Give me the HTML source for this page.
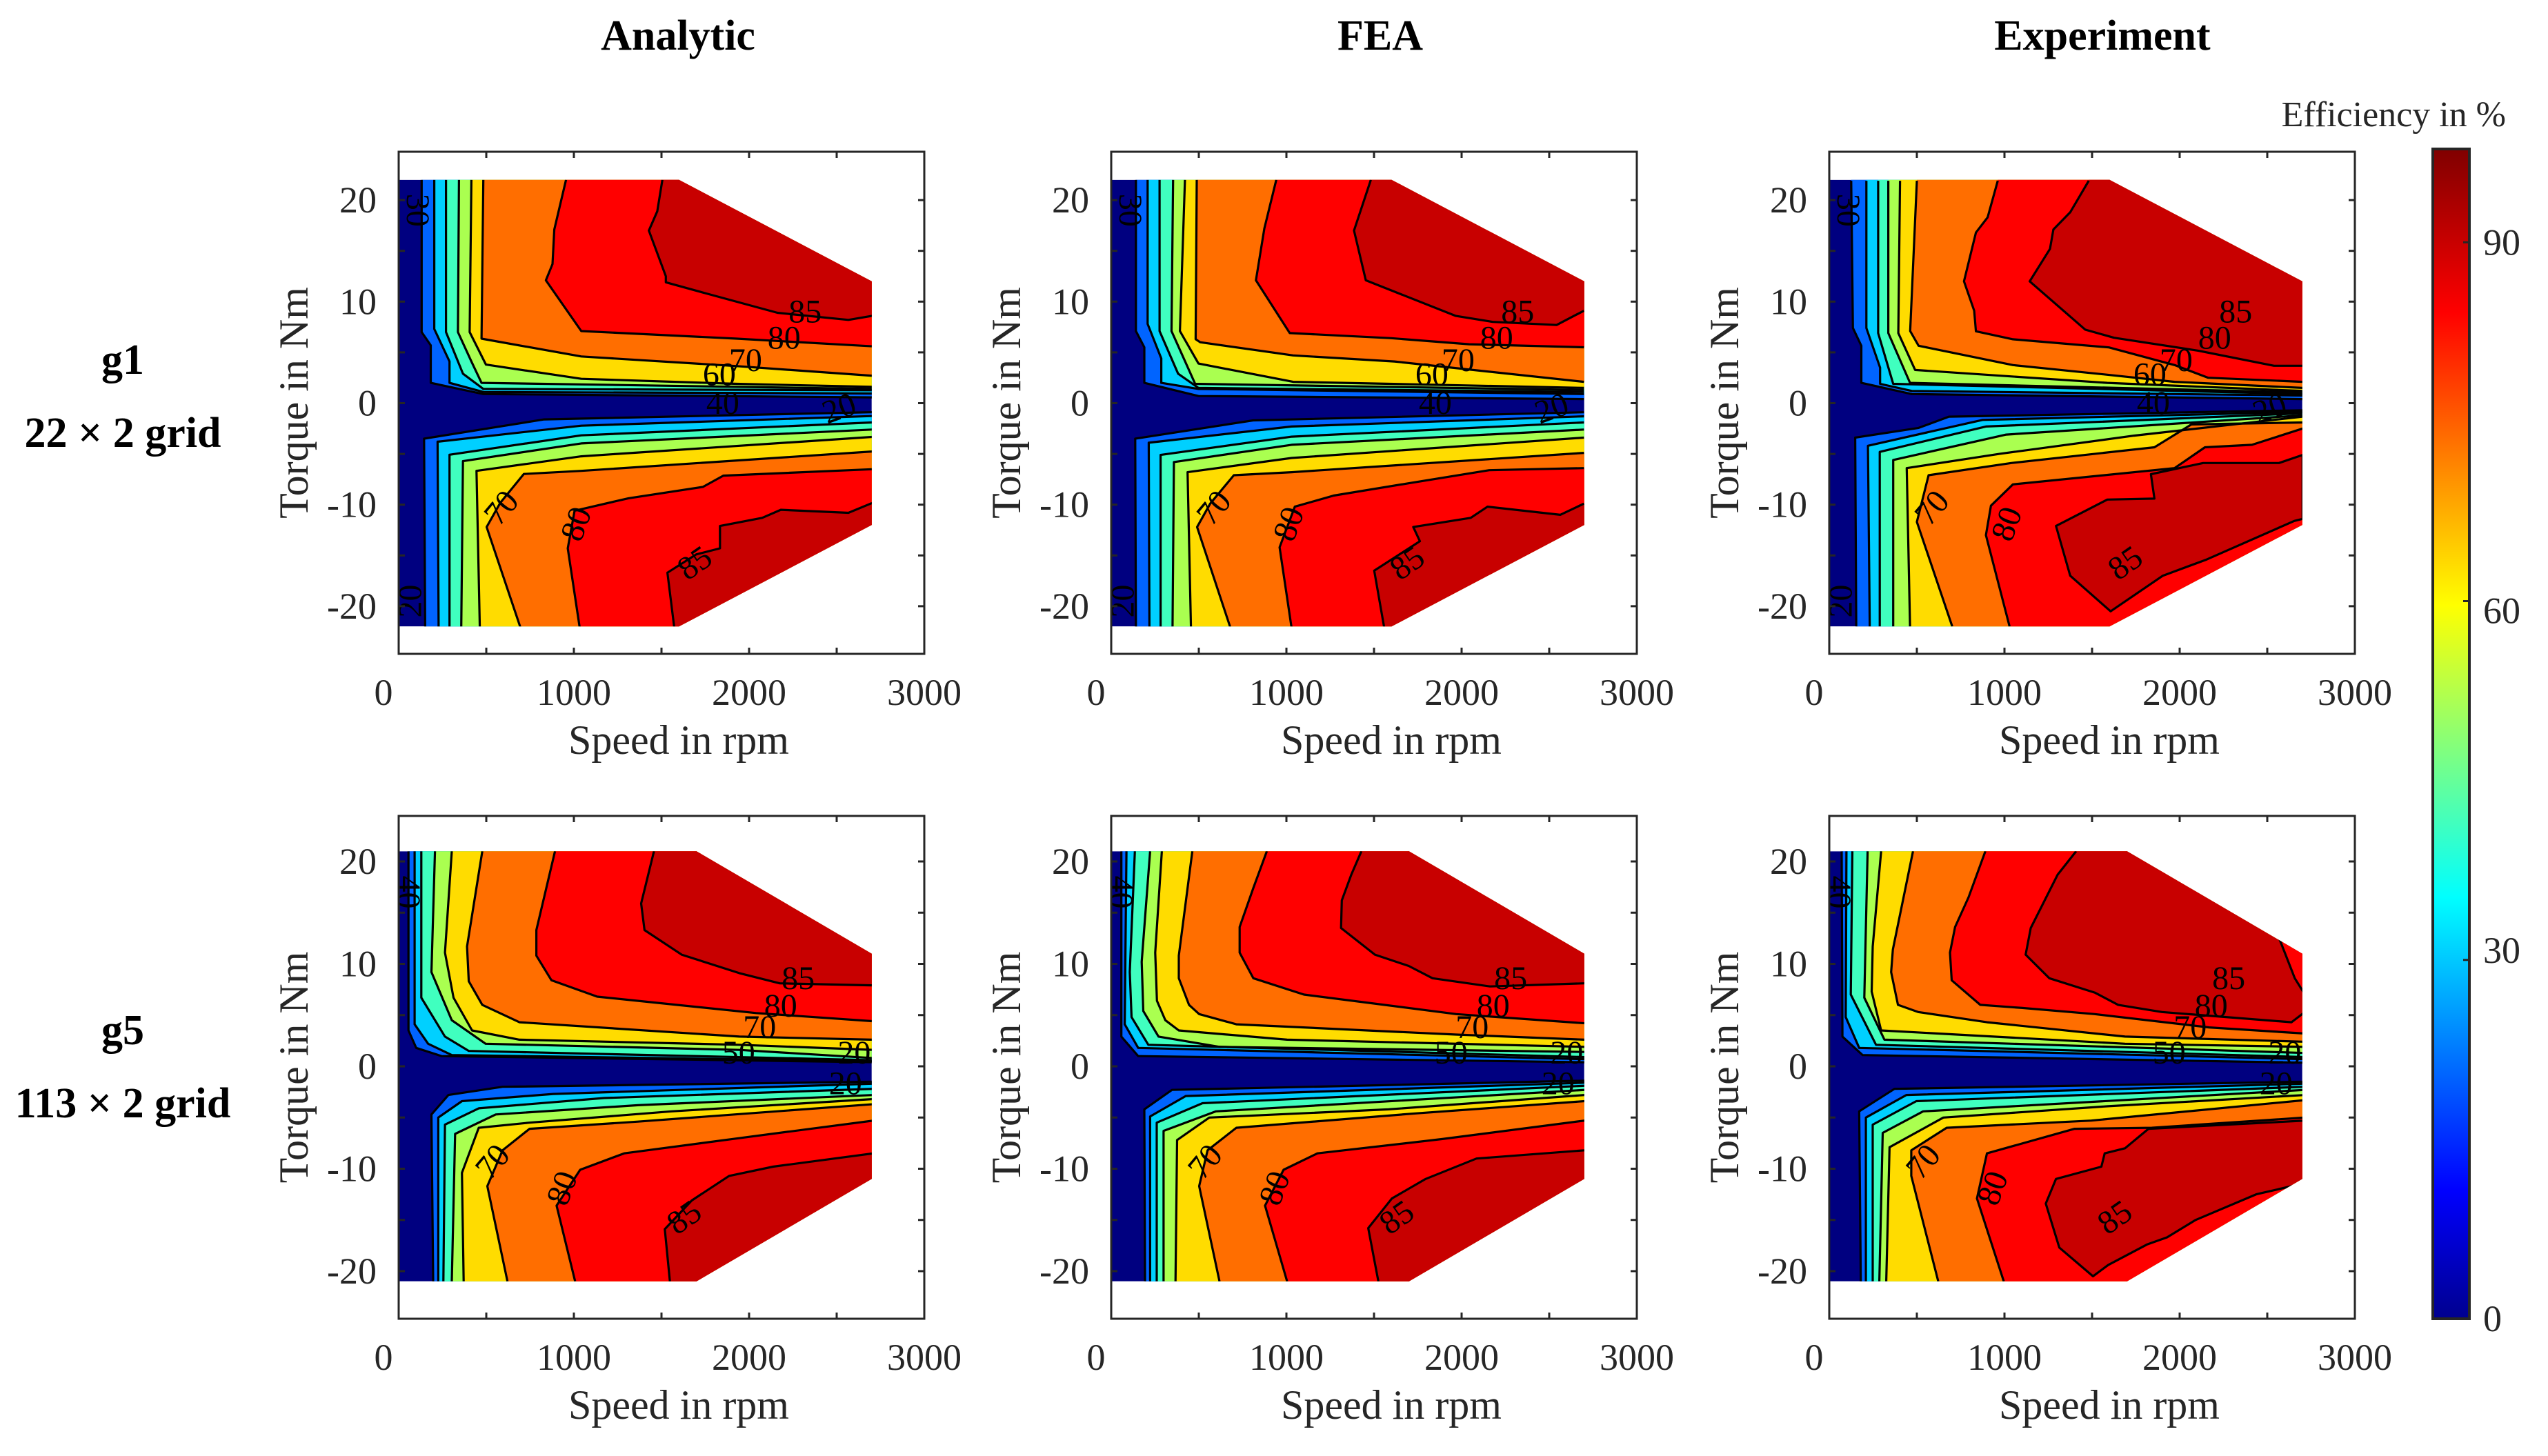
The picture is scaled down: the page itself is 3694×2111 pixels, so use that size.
<!DOCTYPE html>
<html><head><meta charset="utf-8">
<style>
html,body{margin:0;padding:0;background:#fff;}
svg{display:block;}
text{font-family:"Liberation Serif","DejaVu Serif",serif;fill:#262626;}
</style></head>
<body>
<svg id="fig" width="3694" height="2111" viewBox="0 0 3694 2111" xmlns="http://www.w3.org/2000/svg">
<defs>
<linearGradient id="jet" x1="0" y1="1" x2="0" y2="0">
<stop offset="0" stop-color="#00008f"/>
<stop offset="0.11" stop-color="#0000ff"/>
<stop offset="0.36" stop-color="#00ffff"/>
<stop offset="0.61" stop-color="#ffff00"/>
<stop offset="0.86" stop-color="#ff0000"/>
<stop offset="1" stop-color="#800000"/>
</linearGradient>
</defs>
<g id="layer"></g>
</svg>
<script>
// ---- chart data ----
const levels = [20, 30, 40, 50, 60, 70, 80, 85];
const levelColors = ["#0064ff", "#00d0ff", "#40ffbf", "#aaff50", "#ffdc00", "#ff6e00", "#ff0000", "#c80000"];
const baseColor = "#000080";
const xTicks = [0, 500, 1000, 1500, 2000, 2500, 3000];
const xTickLabels = ["0", "1000", "2000", "3000"];
const xTickLabelValues = [0, 1000, 2000, 3000];
const yTicks = [-20, -15, -10, -5, 0, 5, 10, 15, 20];
const yTickLabelValues = [-20, -10, 0, 10, 20];
const colTitles = ["Analytic", "FEA", "Experiment"];
const rowNames = ["g1", "g5"];
const rowGrids = ["22 \u00d7 2 grid", "113 \u00d7 2 grid"];
const cbTicks = [0, 30, 60, 90];
const cbTickLabelNudge = [0, -14, 14, 0];
const cbMax = 97.8;
// envelopes: [Tmax, cornerSpeed, Tright, maxSpeed]
const envG1 = [22, 1600, 12, 2700];
const envG5 = [21, 1700, 11, 2700];

// Analytic g1
const anG1Top = [
 [[131,22],[131,7.0],[183,5.7],[183,2.0],[483,0.9],[2702,0.57]],
 [[203,22],[203,7.3],[290,4.1],[290,2.0],[483,1.1],[2702,0.95]],
 [[270,22],[270,7.0],[367,2.9],[483,1.4],[2702,1.27]],
 [[344,22],[338,7.0],[415,4.1],[473,2.0],[2702,1.4]],
 [[415,22],[405,7.0],[498,3.8],[1042,2.4],[1930,1.9],[2702,1.6]],
 [[483,22],[473,6.35],[1042,4.6],[1930,3.65],[2702,2.7]],
 [[955,22],[888,17.1],[878,13.7],[840,12.1],[1042,7.1],[1930,6.35],[2702,5.6]],
 [[1505,22],[1476,18.9],[1428,17.0],[1525,12.5],[1525,11.9],[1756,10.8],[2162,8.9],[2567,8.2],[2702,8.6]]
];
const anG1Bot = [
 [[151,-22.1],[145,-3.5],[830,-1.6],[2702,-0.89]],
 [[228,-22.1],[222,-3.8],[1042,-2.22],[2702,-1.27]],
 [[290,-22.1],[290,-5.08],[1042,-3.17],[2702,-1.9]],
 [[357,-22.1],[367,-5.71],[1042,-3.97],[2702,-2.6]],
 [[463,-22.1],[444,-6.67],[1042,-5.24],[2702,-3.33]],
 [[695,-22.1],[502,-12.2],[579,-9.84],[714,-6.98],[1042,-6.67],[2702,-4.76]],
 [[1033,-22.1],[965,-14.3],[1004,-10.6],[1312,-9.37],[1737,-8.25],[1853,-7.14],[2702,-6.51]],
 [[1573,-22.1],[1534,-16.7],[1698,-14.9],[1834,-14.3],[1834,-12.1],[2075,-11.3],[2181,-10.5],[2567,-10.8],[2702,-9.84]]
];
// FEA g1
const feG1Top = [
 [[141,22],[141,7.1],[189,5.5],[189,2.0],[498,0.7],[2698,0.4]],
 [[208,22],[208,7.8],[286,4.4],[286,2.0],[498,1.4],[2698,0.9]],
 [[276,22],[276,7.1],[382,2.9],[498,1.5],[2698,1.1]],
 [[353,22],[344,7.1],[479,1.9],[2698,1.3]],
 [[421,22],[392,7.1],[498,3.9],[1038,2.1],[2698,1.5]],
 [[488,22],[482,6.3],[508,6.0],[1038,4.7],[1617,4.1],[2698,2.1]],
 [[942,22],[874,17.2],[826,12.1],[1019,6.9],[1598,6.4],[2042,5.8],[2698,5.5]],
 [[1482,22],[1386,17.0],[1453,12.1],[1965,8.6],[2177,8.0],[2542,7.7],[2698,9.1]]
];
const feG1Bot = [
 [[141,-22.1],[137,-3.5],[810,-1.7],[2698,-0.9]],
 [[218,-22.1],[214,-3.9],[1030,-2.3],[2698,-1.3]],
 [[282,-22.1],[282,-5.1],[1030,-3.3],[2698,-1.9]],
 [[350,-22.1],[358,-5.8],[1030,-4.1],[2698,-2.6]],
 [[455,-22.1],[436,-6.8],[1030,-5.4],[2698,-3.4]],
 [[680,-22.1],[490,-12.2],[565,-9.9],[700,-7.1],[1030,-6.8],[2698,-4.9]],
 [[1029,-22.1],[961,-14.2],[1048,-10.2],[1270,-9.1],[1694,-7.9],[2158,-6.6],[2698,-6.4]],
 [[1559,-22.2],[1501,-16.5],[1762,-13.6],[1724,-12.2],[2052,-11.3],[2148,-10.2],[2563,-11.0],[2698,-9.9]]
];
// Experiment g1
const exG1Top = [
 [[125,21.9],[135,7.4],[183,5.65],[183,2.0],[471,0.9],[2702,0.4]],
 [[212,21.9],[212,7.4],[290,3.5],[290,1.9],[471,1.2],[2702,0.75]],
 [[279,21.9],[279,6.9],[365,1.9],[2702,0.9]],
 [[337,21.9],[337,6.9],[461,2.0],[2702,1.05]],
 [[404,21.9],[394,6.9],[490,3.27],[1587,2.0],[2702,1.2]],
 [[500,21.9],[462,7.1],[510,5.65],[1048,3.75],[1587,2.8],[1971,2.1],[2702,1.5]],
 [[962,21.9],[904,18.3],[837,16.8],[769,12.0],[827,9.1],[837,7.08],[1048,6.29],[1596,5.49],[1971,3.75],[2163,2.5],[2702,2.1]],
 [[1481,21.9],[1375,18.8],[1279,17.1],[1260,15.2],[1144,12.0],[1461,7.24],[1625,6.44],[2105,5.17],[2538,3.68],[2702,3.68]]
];
const exG1Bot = [
 [[154,-22],[148,-3.4],[510,-2.44],[683,-1.33],[2702,-0.7]],
 [[231,-22],[221,-4.2],[875,-1.65],[2702,-0.86]],
 [[288,-22],[288,-4.8],[894,-2.3],[2702,-1.0]],
 [[365,-22],[365,-5.6],[1010,-3.1],[2702,-1.2]],
 [[461,-22],[442,-6.4],[971,-5.0],[1740,-3.2],[2702,-1.33]],
 [[702,-22],[500,-11.7],[567,-7.1],[1039,-5.9],[1856,-4.35],[2067,-2.1],[2702,-1.9]],
 [[1029,-22],[894,-13.0],[923,-10.1],[1048,-8.0],[1971,-6.4],[2144,-4.35],[2413,-4.1],[2702,-2.5]],
 [[1294,-12.1],[1375,-17.0],[1606,-20.5],[1904,-17.0],[2154,-15.4],[2654,-11.6],[2702,-11.4],[2702,-5.1],[2567,-5.9],[2134,-5.9],[1836,-7.0],[1856,-9.4],[1587,-9.5]]
];
// Analytic g5
const anG5Top = [
 [[56,21],[56,3.5],[100,1.8],[245,1.0],[2710,0.4]],
 [[91,21],[91,4.1],[168,2.2],[303,1.1],[2710,0.5]],
 [[129,21],[129,6.7],[264,2.9],[400,1.5],[2710,0.6]],
 [[207,21],[187,9.2],[303,4.5],[496,2.2],[1944,1.6],[2710,0.8]],
 [[303,21],[264,11.1],[313,6.7],[419,3.5],[689,2.6],[1944,2.1],[2710,1.6]],
 [[477,21],[390,11.7],[400,8.3],[477,6.0],[689,4.3],[1944,2.9],[2710,2.6]],
 [[892,21],[786,13.3],[786,10.8],[872,8.4],[1133,6.8],[2040,5.2],[2710,4.4]],
 [[1457,21],[1384,15.9],[1403,13.3],[1615,10.9],[1944,9.1],[2175,8.1],[2710,7.9]]
];
const anG5Bot = [
 [[197,-21],[187,-4.7],[284,-2.8],[593,-2.0],[2710,-1.5]],
 [[226,-21],[226,-5.0],[361,-3.4],[882,-2.7],[2710,-1.7]],
 [[255,-21],[264,-5.7],[457,-4.1],[1172,-3.1],[2710,-2.2]],
 [[303,-21],[322,-6.6],[554,-4.7],[1365,-3.8],[2710,-2.8]],
 [[371,-21],[361,-10.4],[457,-6.0],[747,-5.5],[1558,-4.4],[2710,-3.2]],
 [[621,-21],[506,-11.7],[593,-8.2],[747,-6.1],[1365,-5.4],[2710,-3.7]],
 [[1007,-21],[901,-13.6],[1036,-10.1],[1287,-8.5],[1905,-7.1],[2710,-5.3]],
 [[1548,-21],[1519,-15.9],[1673,-13.1],[1886,-10.7],[2137,-9.8],[2710,-8.5]]
];
// FEA g5
const feG5Top = [
 [[58,21],[58,2.9],[154,1.0],[2702,0.4]],
 [[87,21],[77,4.1],[154,1.8],[2702,0.7]],
 [[135,21],[106,9.2],[116,4.8],[212,2.1],[2702,0.9]],
 [[222,21],[174,10.2],[183,5.4],[270,2.9],[618,1.9],[2702,1.4]],
 [[289,21],[251,11.1],[261,6.4],[309,4.5],[386,3.5],[1004,2.6],[2702,1.9]],
 [[463,21],[386,10.8],[386,8.6],[444,6.0],[502,5.1],[714,4.1],[1969,3.1],[2702,2.6]],
 [[888,21],[811,17.4],[733,13.6],[733,11.1],[811,8.6],[1100,7.0],[1969,5.1],[2702,4.2]],
 [[1428,21],[1370,18.7],[1316,16.2],[1312,13.5],[1505,10.9],[1698,9.8],[1834,8.6],[2162,7.8],[2702,8.1]]
];
const feG5Bot = [
 [[193,-21],[189,-4.2],[347,-2.3],[2702,-1.4]],
 [[222,-21],[222,-4.9],[425,-2.9],[2702,-1.6]],
 [[260,-21],[260,-5.5],[521,-3.6],[2702,-1.9]],
 [[299,-21],[299,-6.3],[598,-4.4],[2702,-2.3]],
 [[367,-21],[376,-7.2],[560,-5.0],[1583,-4.2],[2702,-2.8]],
 [[618,-21],[502,-11.7],[550,-8.2],[714,-6.0],[1737,-4.6],[2702,-3.4]],
 [[1004,-21],[878,-13.6],[984,-10.1],[1177,-8.5],[1891,-7.1],[2702,-5.3]],
 [[1525,-21],[1467,-15.8],[1602,-12.9],[1795,-11.0],[2085,-9.0],[2702,-8.2]]
];
// Experiment g5
const exG5Top = [
 [[71,21],[75,2.9],[190,1.1],[2715,0.35]],
 [[98,21],[94,4.8],[171,1.8],[2715,0.7]],
 [[132,21],[123,7.0],[267,2.1],[2715,0.9]],
 [[219,21],[200,6.7],[315,2.6],[2715,1.3]],
 [[296,21],[248,11.7],[242,7.3],[296,3.5],[1688,2.2],[2715,1.9]],
 [[478,21],[363,11.4],[353,9.2],[392,6.0],[507,5.3],[900,4.3],[1688,2.9],[2715,2.4]],
 [[891,21],[795,16.5],[718,13.6],[689,11.1],[699,8.4],[862,6.0],[1102,5.7],[1515,5.1],[2168,3.8],[2715,3.2]],
 [[1409,21],[1303,18.7],[1150,13.5],[1121,10.9],[1256,8.6],[1515,7.2],[1649,6.0],[1899,5.3],[2638,4.3],[2715,5.3]]
];
const exG5Bot = [
 [[180,-21],[171,-4.4],[372,-2.2],[2715,-1.5]],
 [[209,-21],[209,-5.0],[440,-2.8],[2715,-1.7]],
 [[248,-21],[248,-5.7],[497,-3.4],[2715,-2.0]],
 [[286,-21],[305,-6.5],[536,-4.4],[2715,-2.3]],
 [[325,-21],[344,-7.9],[651,-5.0],[1591,-3.9],[2715,-2.8]],
 [[622,-21],[468,-10.7],[468,-8.2],[670,-6.0],[1496,-5.3],[2715,-3.3]],
 [[996,-21],[843,-12.9],[900,-8.5],[1400,-6.1],[1841,-6.0],[2715,-5.0]],
 [[1294,-11.0],[1236,-13.4],[1313,-17.7],[1505,-20.5],[1592,-19.4],[1813,-17.4],[1928,-16.7],[2091,-15.0],[2437,-12.5],[2715,-11.4],[2715,-5.3],[1822,-6.1],[1688,-8.0],[1572,-8.5],[1553,-9.8]]
];
// extra sub-85 patch in experiment g5 (top-right corner)
const exG5Patch80 = [[2561,12.8],[2657,8.6],[2715,7.0],[2760,7.0],[2760,14],[2561,14]];
// contour labels: [text, speed, torque, rotation]
const labelsG1 = [["85",2320,8.7,0],["80",2200,6.1,0],["70",1980,3.9,0],["60",1830,2.5,0],["40",1850,-0.3,0],["20",2520,-0.8,-20],["30",90,19,90],["20",85,-19.5,-90],["70",600,-10.5,-50],["80",1030,-12,-70],["85",1700,-16,-35]];
const labelsG5 = [["85",2280,8.3,0],["80",2180,5.6,0],["70",2060,3.5,0],["50",1940,1.0,0],["20",2600,1.0,0],["20",2550,-2.0,0],["40",40,17,90],["70",550,-9.5,-50],["80",950,-12,-70],["85",1640,-15,-35]];
const panelTop = [[anG1Top, feG1Top, exG1Top], [anG5Top, feG5Top, exG5Top]];
const panelBot = [[anG1Bot, feG1Bot, exG1Bot], [anG5Bot, feG5Bot, exG5Bot]];
const closedBottom85 = [[false, false, true], [false, false, true]];
const panelEnv = [envG1, envG5];
const panelLabels = [labelsG1, labelsG5];

// ---- layout ----
const colX0 = [578, 1611, 2652];
const axW = 762;
const rowTop = [220, 1183];
const rowBot = [948, 1912];
const rowZero = [584.5, 1546];
const rowK = [14.72, 14.85];
const NS = "http://www.w3.org/2000/svg";
const layer = document.getElementById("layer");

function mk(tag, attrs, parent) {
  const el = document.createElementNS(NS, tag);
  for (const k in attrs) el.setAttribute(k, attrs[k]);
  (parent || layer).appendChild(el);
  return el;
}
function txt(str, attrs, parent) {
  const t = mk("text", attrs, parent);
  t.textContent = str;
  return t;
}

for (let r = 0; r < 2; r++) {
  for (let c = 0; c < 3; c++) {
    const x0 = colX0[c], top = rowTop[r], bot = rowBot[r], z = rowZero[r], k = rowK[r];
    const sx = s => x0 + s / 3000 * axW;
    const ty = t => z - t * k;
    const pt = p => sx(p[0]).toFixed(1) + "," + ty(p[1]).toFixed(1);
    const g = mk("g", {});
    
    
    const env = panelEnv[r];
    const cpId = "clip" + r + c;
    const cp = mk("clipPath", {id: cpId}, g);
    const envPts = [[0, env[0]], [env[1], env[0]], [env[3], env[2]], [env[3], -env[2]], [env[1], -env[0]], [0, -env[0]]];
    mk("polygon", {points: envPts.map(pt).join(" ")}, cp);
    const fills = mk("g", {"clip-path": "url(#" + cpId + ")"}, g);
    const base = mk("polygon", {points: envPts.map(pt).join(" "), fill: baseColor}, fills);
    
    
    const topSet = panelTop[r][c], botSet = panelBot[r][c];
    for (let i = 0; i < levels.length; i++) {
      const tp = topSet[i];
      const tPoly = tp.concat([[3100, tp[tp.length - 1][1]], [3100, 40], [tp[0][0], 40]]);
      const a = mk("polygon", {points: tPoly.map(pt).join(" "), fill: levelColors[i]}, fills);
      
      
      const bp = botSet[i];
      const closed = (i === levels.length - 1) && closedBottom85[r][c];
      const bPoly = closed ? bp : bp.concat([[3100, bp[bp.length - 1][1]], [3100, -40], [bp[0][0], -40]]);
      const b = mk("polygon", {points: bPoly.map(pt).join(" "), fill: levelColors[i]}, fills);
      
      
    }
    const lines = mk("g", {"clip-path": "url(#" + cpId + ")", fill: "none", stroke: "#000", "stroke-width": 3.2, "stroke-linejoin": "round"}, g);
    if (r === 1 && c === 2) {
      const patch = mk("polygon", {points: exG5Patch80.map(pt).join(" "), fill: levelColors[6]}, fills);
      
      
      const pl = mk("polyline", {points: exG5Patch80.slice(0, 3).map(pt).join(" ")}, lines);
      
      
    }
    for (let i = 0; i < levels.length; i++) {
      const l1 = mk("polyline", {points: topSet[i].map(pt).join(" ")}, lines);
      
      
      const closed = (i === levels.length - 1) && closedBottom85[r][c];
      const l2 = mk(closed ? "polygon" : "polyline", {points: botSet[i].map(pt).join(" ")}, lines);
      
      
    }
    for (const L of panelLabels[r]) {
      const lx = sx(L[1]), ly = ty(L[2]);
      const lt = txt(L[0], {x: lx, y: ly, "font-size": 48, "text-anchor": "middle", "dominant-baseline": "middle", transform: "rotate(" + L[3] + " " + lx + " " + ly + ")", style: "fill:#000"}, g);
      
      
    }
    const box = mk("rect", {x: x0, y: top, width: axW, height: bot - top, fill: "none", stroke: "#262626", "stroke-width": 3}, g);
    
    
    for (const t of xTicks) {
      const X = sx(t);
      mk("line", {x1: X, x2: X, y1: bot, y2: bot - 9, stroke: "#262626", "stroke-width": 3}, g);
      mk("line", {x1: X, x2: X, y1: top, y2: top + 9, stroke: "#262626", "stroke-width": 3}, g);
    }
    for (const t of yTicks) {
      const Y = ty(t);
      mk("line", {x1: x0, x2: x0 + 9, y1: Y, y2: Y, stroke: "#262626", "stroke-width": 3}, g);
      mk("line", {x1: x0 + axW, x2: x0 + axW - 9, y1: Y, y2: Y, stroke: "#262626", "stroke-width": 3}, g);
    }
    for (let i = 0; i < xTickLabelValues.length; i++) {
      const xl = txt(xTickLabels[i], {x: sx(xTickLabelValues[i]) - (i === 0 ? 22 : 0), y: bot + 74, "font-size": 54, "text-anchor": "middle"}, g);
      
      
    }
    for (const v of yTickLabelValues) {
      const yl = txt(String(v), {x: x0 - 32, y: ty(v) + 18, "font-size": 54, "text-anchor": "end"}, g);
      
      
    }
    const xt = txt("Speed in rpm", {x: x0 + axW / 2 + 25, y: bot + 145, "font-size": 60, "text-anchor": "middle"}, g);
    
    
    const yx = x0 - 132, yy = (top + bot) / 2;
    const yt = txt("Torque in Nm", {x: yx, y: yy, "font-size": 60, "text-anchor": "middle", transform: "rotate(-90 " + yx + " " + yy + ")"}, g);
    
    
  }
}
const titleX = [983, 2001, 3048];
for (let c = 0; c < 3; c++) {
  const t = txt(colTitles[c], {x: titleX[c], y: 72, "font-size": 62, "font-weight": "bold", "text-anchor": "middle", style: "fill:#000"});
  
  
}
const rowNameY = [542, 1514];
const rowGridY = [648, 1620];
for (let r = 0; r < 2; r++) {
  const a = txt(rowNames[r], {x: 178, y: rowNameY[r], "font-size": 62, "font-weight": "bold", "text-anchor": "middle", style: "fill:#000"});
  
  
  const b = txt(rowGrids[r], {x: 178, y: rowGridY[r], "font-size": 62, "font-weight": "bold", "text-anchor": "middle", style: "fill:#000"});
  
  
}
const cbX = 3527, cbW = 53, cbTop = 216, cbBot = 1912;
const cbY = v => cbBot - v / cbMax * (cbBot - cbTop);
const cb = mk("rect", {x: cbX, y: cbTop, width: cbW, height: cbBot - cbTop, fill: "url(#jet)", stroke: "#262626", "stroke-width": 4});


for (let i = 0; i < cbTicks.length; i++) {
  const v = cbTicks[i];
  const Y = cbY(v);
  mk("line", {x1: cbX + cbW, x2: cbX + cbW - 9, y1: Y, y2: Y, stroke: "#262626", "stroke-width": 3});
  const t = txt(String(v), {x: cbX + cbW + 20, y: Y + 18 + cbTickLabelNudge[i], "font-size": 54});
  
  
}
const cbt = txt("Efficiency in %", {x: 3633, y: 183, "font-size": 52, "text-anchor": "end"});


</script>
</body></html>
